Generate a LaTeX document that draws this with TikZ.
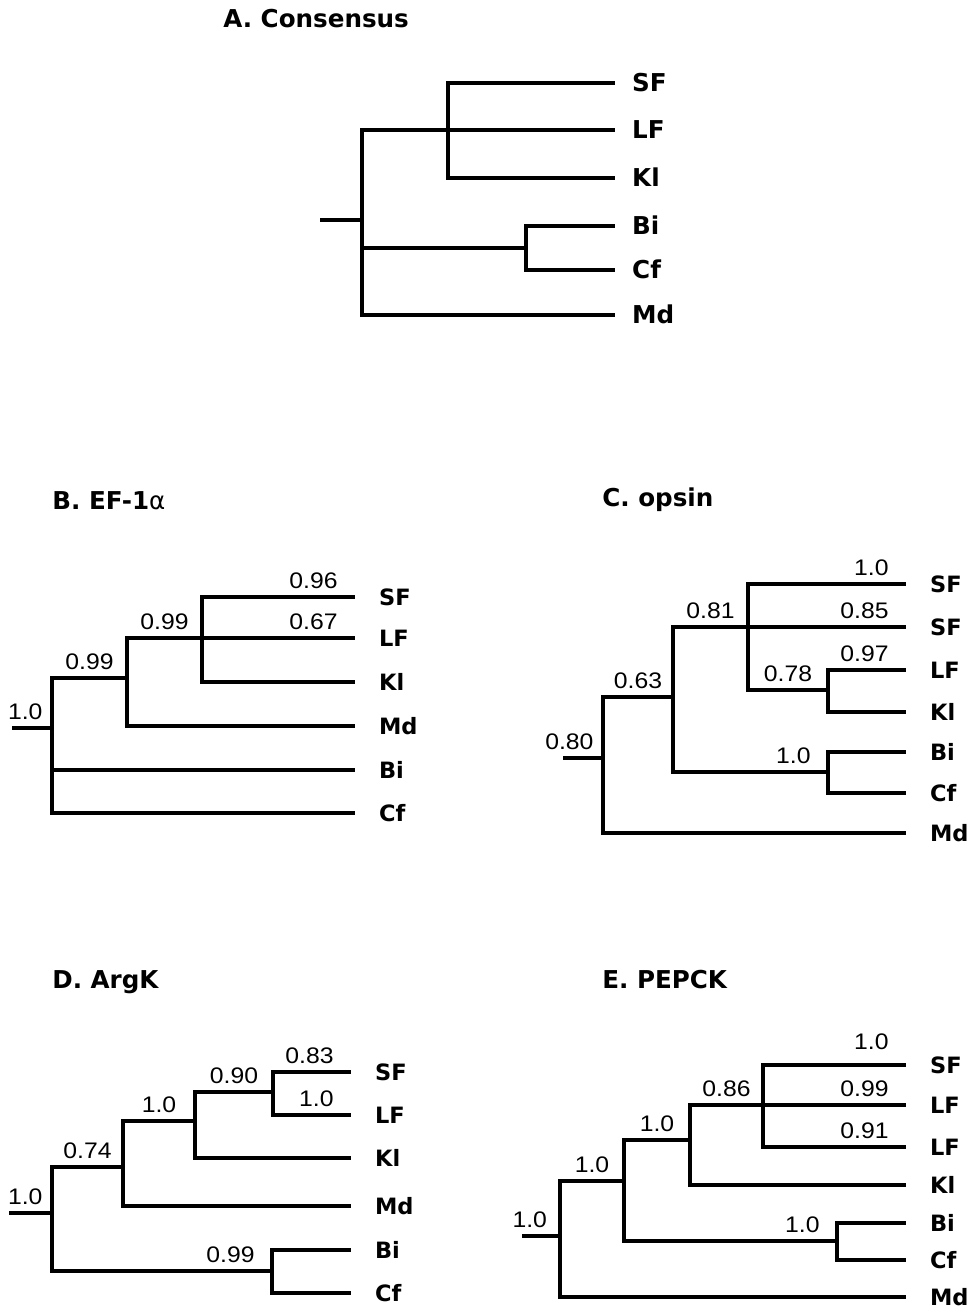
\documentclass[tikz,border=0pt]{standalone}
\usepackage{fontspec}
\setmainfont{Liberation Sans}[FakeStretch=1.1]
\newfontfamily\leaffont{DejaVu Sans}
\usepackage{tikz}

\begin{document}
\begin{tikzpicture}[
    x=0.02cm, y=-0.02cm,
    every node/.style={font=\fontsize{12.8}{15}\selectfont},
    branch/.style={line width=1.9pt},
    leaf/.style={anchor=west, font=\leaffont\bfseries\fontsize{12.8}{15}\selectfont,
        inner xsep=13.5pt, inner ysep=0pt, text height=9.3pt, text depth=0pt},
    title/.style={anchor=west, font=\leaffont\bfseries\fontsize{14}{16}\selectfont,
        inner sep=0pt, text height=10.2pt, text depth=0pt},
    sup/.style={above, inner sep=3.5pt},
    mid/.style={sup, pos=0.75},
    tip/.style={sup, pos=1, anchor=south east, xshift=-5.5pt},
    rootsup/.style={sup, pos=1, anchor=south east, xshift=-1pt},
]
\useasboundingbox (0,0) rectangle (976,1309);

% A. Consensus
\node[title] (tA) at (223,19) {A. Consensus};
\coordinate (a0) at (320,220);
\coordinate (aR) at (362,220);
\coordinate (a1) at (448,130);
\coordinate (a2) at (526,248);
\foreach \n/\y in {SF/83, LF/130, Kl/178, Bi/226, Cf/270, Md/315} {
    \node[leaf, inner xsep=9.6pt, text height=10.2pt,
          font=\leaffont\bfseries\fontsize{14}{16}\selectfont] (a\n) at (615,\y) {\n};
}
\draw[branch] (a0) -- (aR);
\draw[branch] (aR) |- (a1);
\draw[branch] (aR) |- (a2);
\draw[branch] (aR) |- (aMd.west);
\draw[branch] (a1) |- (aSF.west);
\draw[branch] (a1) -- (aLF.west);
\draw[branch] (a1) |- (aKl.west);
\draw[branch] (a2) |- (aBi.west);
\draw[branch] (a2) |- (aCf.west);

% B. EF-1alpha
\node[title] (tB) at (52,501) {B. EF-1{\mdseries α}};
\coordinate (b0) at (12,728);
\coordinate (bR) at (52,728);
\coordinate (b1) at (127,678);
\coordinate (b2) at (202,638);
\foreach \n/\y in {SF/597, LF/638, Kl/682, Md/726, Bi/770, Cf/813} {
    \node[leaf] (b\n) at (355,\y) {\n};
}
\draw[branch] (b0) -- node[rootsup] {1.0} (bR);
\draw[branch] (bR) |- node[mid] {0.99} (b1);
\draw[branch] (bR) |- (bBi.west);
\draw[branch] (bR) |- (bCf.west);
\draw[branch] (b1) |- node[mid] {0.99} (b2);
\draw[branch] (b1) |- (bMd.west);
\draw[branch] (b2) |- node[tip] {0.96} (bSF.west);
\draw[branch] (b2) -- node[tip] {0.67} (bLF.west);
\draw[branch] (b2) |- (bKl.west);

% C. opsin
\node[title] (tC) at (602,498) {C. opsin};
\coordinate (c0) at (563,758);
\coordinate (cR) at (603,758);
\coordinate (c1) at (673,697);
\coordinate (c2) at (748,627);
\coordinate (c3) at (828,690);
\coordinate (c4) at (828,772);
\foreach \n/\y/\t in {SF1/584/SF, SF2/627/SF, LF/670/LF, Kl/712/Kl, Bi/752/Bi, Cf/793/Cf, Md/833/Md} {
    \node[leaf] (c\n) at (906,\y) {\t};
}
\draw[branch] (c0) -- node[rootsup] {0.80} (cR);
\draw[branch] (cR) |- node[mid] {0.63} (c1);
\draw[branch] (cR) |- (cMd.west);
\draw[branch] (c1) |- node[mid] {0.81} (c2);
\draw[branch] (c1) |- node[tip] {1.0} (c4);
\draw[branch] (c2) |- node[tip] {1.0} (cSF1.west);
\draw[branch] (c2) -- node[tip] {0.85} (cSF2.west);
\draw[branch] (c2) |- node[mid] {0.78} (c3);
\draw[branch] (c3) |- node[tip] {0.97} (cLF.west);
\draw[branch] (c3) |- (cKl.west);
\draw[branch] (c4) |- (cBi.west);
\draw[branch] (c4) |- (cCf.west);

% D. ArgK
\node[title] (tD) at (52,980) {D. ArgK};
\coordinate (d0) at (9,1213);
\coordinate (dR) at (52,1213);
\coordinate (d1) at (123,1167);
\coordinate (d2) at (195,1121);
\coordinate (d3) at (273,1092);
\coordinate (d4) at (272,1271);
\foreach \n/\y in {SF/1072, LF/1115, Kl/1158, Md/1206, Bi/1250, Cf/1293} {
    \node[leaf] (d\n) at (351,\y) {\n};
}
\draw[branch] (d0) -- node[rootsup] {1.0} (dR);
\draw[branch] (dR) |- node[mid] {0.74} (d1);
\draw[branch] (dR) |- node[tip] {0.99} (d4);
\draw[branch] (d1) |- node[mid] {1.0} (d2);
\draw[branch] (d1) |- (dMd.west);
\draw[branch] (d2) |- node[mid] {0.90} (d3);
\draw[branch] (d2) |- (dKl.west);
\draw[branch] (d3) |- node[tip] {0.83} (dSF.west);
\draw[branch] (d3) |- node[tip] {1.0} (dLF.west);
\draw[branch] (d4) |- (dBi.west);
\draw[branch] (d4) |- (dCf.west);

% E. PEPCK
\node[title] (tE) at (602,980) {E. PEPCK};
\coordinate (e0) at (522,1236);
\coordinate (eR) at (560,1236);
\coordinate (e1) at (624,1181);
\coordinate (e2) at (690,1140);
\coordinate (e3) at (763,1105);
\coordinate (e4) at (837,1241);
\foreach \n/\y/\t in {SF/1065/SF, LF1/1105/LF, LF2/1147/LF, Kl/1185/Kl, Bi/1223/Bi, Cf/1260/Cf, Md/1297/Md} {
    \node[leaf] (e\n) at (906,\y) {\t};
}
\draw[branch] (e0) -- node[rootsup, xshift=-2pt] {1.0} (eR);
\draw[branch] (eR) |- node[mid] {1.0} (e1);
\draw[branch] (eR) |- (eMd.west);
\draw[branch] (e1) |- node[mid] {1.0} (e2);
\draw[branch] (e1) |- node[tip] {1.0} (e4);
\draw[branch] (e2) |- node[mid] {0.86} (e3);
\draw[branch] (e2) |- (eKl.west);
\draw[branch] (e3) |- node[tip, yshift=4.5pt] {1.0} (eSF.west);
\draw[branch] (e3) -- node[tip] {0.99} (eLF1.west);
\draw[branch] (e3) |- node[tip] {0.91} (eLF2.west);
\draw[branch] (e4) |- (eBi.west);
\draw[branch] (e4) |- (eCf.west);
\end{tikzpicture}
\end{document}
